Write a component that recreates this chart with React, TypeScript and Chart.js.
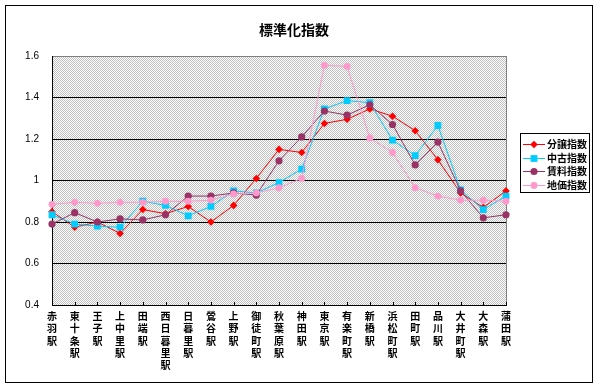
import React, { useEffect, useRef } from 'react';
import { Chart, registerables } from 'chart.js';

Chart.register(...registerables);

const chartTitle = '標準化指数';
const categories = [
  '赤羽駅', '東十条駅', '王子駅', '上中里駅', '田端駅', '西日暮里駅', '日暮里駅',
  '鶯谷駅', '上野駅', '御徒町駅', '秋葉原駅', '神田駅', '東京駅', '有楽町駅',
  '新橋駅', '浜松町駅', '田町駅', '品川駅', '大井町駅', '大森駅', '蒲田駅',
];
const seriesNames = ['分譲指数', '中古指数', '賃料指数', '地価指数'];
const bunjoIndex = [0.85, 0.775, 0.8, 0.745, 0.86, 0.84, 0.875, 0.8, 0.88, 1.01, 1.15, 1.135, 1.275, 1.295, 1.345, 1.31, 1.24, 1.1, 0.94, 0.87, 0.95];
const chukoIndex = [0.835, 0.79, 0.78, 0.775, 0.9, 0.88, 0.83, 0.875, 0.95, 0.94, 0.99, 1.055, 1.345, 1.385, 1.375, 1.195, 1.12, 1.265, 0.955, 0.86, 0.925];
const chinryoIndex = [0.79, 0.845, 0.8, 0.815, 0.81, 0.835, 0.925, 0.925, 0.94, 0.93, 1.095, 1.21, 1.335, 1.315, 1.365, 1.27, 1.075, 1.185, 0.95, 0.82, 0.835];
const chikaIndex = [0.885, 0.895, 0.89, 0.895, 0.895, 0.9, 0.9, 0.905, 0.935, 0.94, 0.965, 1.01, 1.555, 1.55, 1.205, 1.135, 0.965, 0.925, 0.905, 0.905, 0.9];
const yTickLabels = ['0.4', '0.6', '0.8', '1', '1.2', '1.4', '1.6'];

const seriesColors = ['#ff0000', '#00ccff', '#993366', '#ff99cc'];
const seriesMarkers = ['rectRot', 'rect', 'circle', 'circle'];
const markerRadius = [3.8, 4.8, 3.6, 3.4];

const CJK = '"Noto Sans CJK JP", "Noto Sans CJK SC", sans-serif';

function drawMarker(ctx: CanvasRenderingContext2D, style: string, x: number, y: number, r: number, color: string) {
  ctx.save();
  ctx.fillStyle = color;
  ctx.beginPath();
  if (style === 'rectRot') {
    ctx.moveTo(x, y - r);
    ctx.lineTo(x + r, y);
    ctx.lineTo(x, y + r);
    ctx.lineTo(x - r, y);
    ctx.closePath();
  } else if (style === 'rect') {
    const s = r * Math.SQRT1_2;
    ctx.rect(x - s, y - s, 2 * s, 2 * s);
  } else {
    ctx.arc(x, y, r, 0, Math.PI * 2);
  }
  ctx.fill();
  ctx.restore();
}

export default function App() {
  const ref = useRef<HTMLCanvasElement>(null);

  useEffect(() => {
    document.body.style.margin = '0';
    const canvas = ref.current!;
    const pc = document.createElement('canvas');
    pc.width = 2;
    pc.height = 2;
    const px = pc.getContext('2d')!;
    px.fillStyle = '#ffffff';
    px.fillRect(0, 0, 2, 2);
    px.fillStyle = '#c0c0c0';
    px.fillRect(0, 0, 1, 1);
    px.fillRect(1, 1, 1, 1);
    const pattern = canvas.getContext('2d')!.createPattern(pc, 'repeat');

    const framePlugin = {
      id: 'frame',
      beforeDraw(chart: any) {
        const { ctx, chartArea: a } = chart;
        ctx.save();
        ctx.fillStyle = '#ffffff';
        ctx.fillRect(0, 0, chart.width, chart.height);
        if (pattern) {
          ctx.fillStyle = pattern;
          ctx.fillRect(a.left, a.top, a.right - a.left, a.bottom - a.top);
        }
        ctx.restore();
      },
      beforeDatasetsDraw(chart: any) {
        const { ctx, chartArea: a } = chart;
        const xs = chart.scales.x;
        ctx.save();
        ctx.strokeStyle = '#808080';
        ctx.lineWidth = 1;
        ctx.beginPath();
        ctx.moveTo(Math.round(a.right) + 0.5, a.top);
        ctx.lineTo(Math.round(a.right) + 0.5, a.bottom);
        ctx.stroke();
        ctx.strokeStyle = '#000000';
        ctx.beginPath();
        for (let i = 0; i < categories.length; i++) {
          const x = Math.round(xs.getPixelForValue(i)) + 0.5;
          ctx.moveTo(x, a.bottom - 3);
          ctx.lineTo(x, a.bottom);
        }
        ctx.stroke();
        ctx.restore();
      },
      afterDraw(chart: any) {
        const { ctx } = chart;
        ctx.save();
        // outer border
        ctx.strokeStyle = '#000000';
        ctx.lineWidth = 1;
        ctx.strokeRect(5.5, 5.5, 587, 377);
        // title
        ctx.fillStyle = '#000000';
        ctx.font = `bold 14px ${CJK}`;
        ctx.textAlign = 'center';
        ctx.textBaseline = 'middle';
        ctx.fillText(chartTitle, 294, 30);
        // legend
        const lx = 520, ly = 133, lw = 69, lh = 59;
        ctx.strokeRect(lx + 0.5, ly + 0.5, lw, lh);
        ctx.font = `bold 10px ${CJK}`;
        ctx.textAlign = 'left';
        chart.data.datasets.forEach((ds: any, i: number) => {
          const y = Math.round(144 + i * 13.7) + 0.5;
          ctx.strokeStyle = ds.borderColor;
          ctx.beginPath();
          ctx.moveTo(523, y);
          ctx.lineTo(545, y);
          ctx.stroke();
          drawMarker(ctx, seriesMarkers[i], 534, y, markerRadius[i], ds.borderColor);
          ctx.fillStyle = '#000000';
          ctx.fillText(ds.label, 547, y);
        });
        ctx.restore();
      },
    };

    const seriesData = [bunjoIndex, chukoIndex, chinryoIndex, chikaIndex];
    const chart = new Chart(canvas, {
      type: 'line',
      data: {
        labels: categories.map((c) => c.split('')),
        datasets: seriesData.map((d, i) => ({
          label: seriesNames[i],
          data: d,
          borderColor: seriesColors[i],
          backgroundColor: seriesColors[i],
          borderWidth: 1,
          pointStyle: seriesMarkers[i] as any,
          pointRadius: markerRadius[i],
          pointBorderWidth: 0,
          pointBackgroundColor: seriesColors[i],
          tension: 0,
          fill: false,
          order: 4 - i,
        })),
      },
      options: {
        responsive: false,
        animation: false,
        events: [],
        layout: { padding: { left: 0, top: 56, right: 93, bottom: 0 } },
        plugins: {
          legend: { display: false },
          title: { display: false },
          tooltip: { enabled: false },
        },
        scales: {
          x: {
            type: 'category',
            offset: false,
            grid: { display: true, color: 'rgba(0,0,0,0)', drawTicks: false },
            border: { display: true, color: '#000000', width: 1 },
            ticks: {
              autoSkip: false,
              maxRotation: 0,
              minRotation: 0,
              padding: 5,
              color: '#000000',
              font: { family: CJK, size: 10, weight: 'bold', lineHeight: 1.23 },
            },
            afterFit: (s: any) => { s.height = 83; },
          },
          y: {
            min: 0.4,
            max: 1.6,
            ticks: {
              stepSize: 0.2,
              padding: 13,
              color: '#000000',
              font: { family: '"Liberation Sans", Arial, sans-serif', size: 10 },
              callback: (_v: any, idx: number) => yTickLabels[idx],
            },
            grid: {
              drawTicks: false,
              lineWidth: 1,
              color: (c: any) => (Math.abs(c.tick.value - 1.6) < 1e-6 ? '#808080' : '#000000'),
            },
            border: { display: true, color: '#000000', width: 1 },
            afterFit: (s: any) => { s.width = 52; },
          },
        },
      },
      plugins: [framePlugin],
    });
    return () => chart.destroy();
  }, []);

  return (
    <div style={{ width: 599, height: 388 }}>
      <canvas ref={ref} width={599} height={388} style={{ display: 'block' }} />
    </div>
  );
}
